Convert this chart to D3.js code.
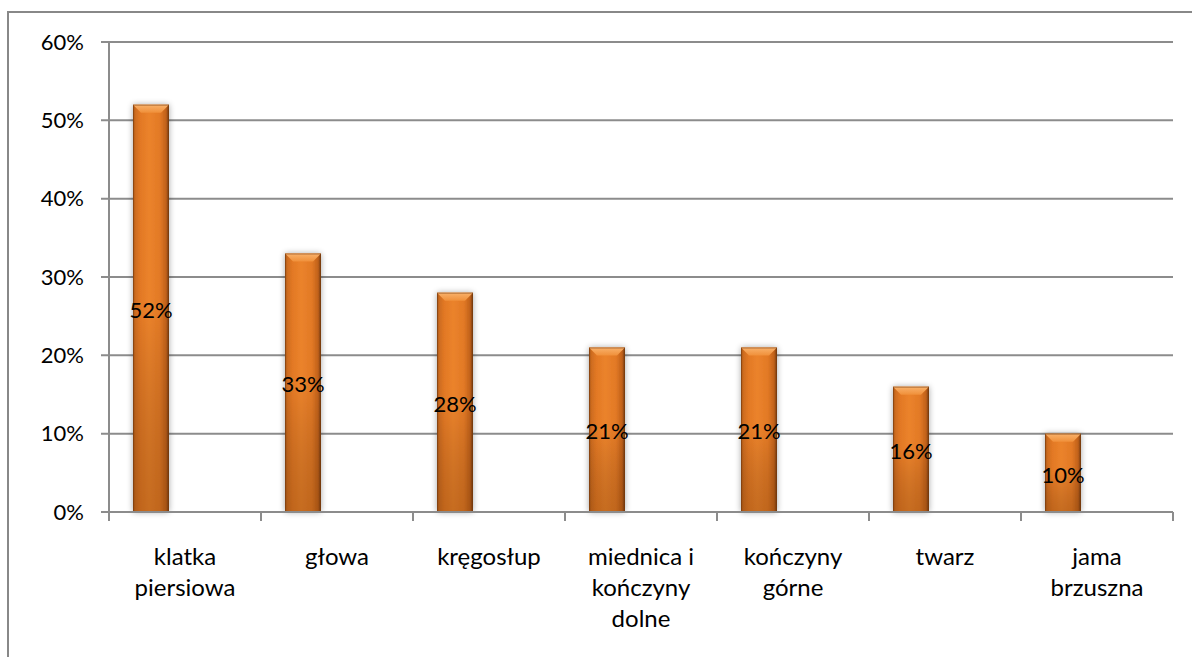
<!DOCTYPE html>
<html>
<head>
<meta charset="utf-8">
<script src="https://cdn.jsdelivr.net/npm/d3@7"></script>
<style>
  html, body { margin: 0; padding: 0; background: #fff; }
  svg { display: block; }
  text { font-family: Lato, "Open Sans", sans-serif; fill: #000; }
</style>
</head>
<body>
<svg id="chart" width="1192" height="657"></svg>
<script>
// Injury locations and their share of cases
const categories = [
  ["klatka", "piersiowa"],
  ["głowa"],
  ["kręgosłup"],
  ["miednica i", "kończyny", "dolne"],
  ["kończyny", "górne"],
  ["twarz"],
  ["jama", "brzuszna"]
];
const values = [0.52, 0.33, 0.28, 0.21, 0.21, 0.16, 0.10];
const yTicks = [0, 0.1, 0.2, 0.3, 0.4, 0.5, 0.6];

const svg = d3.select("#chart");
const W = 1192, H = 657;
const plot = { left: 109, right: 1173, top: 42, bottom: 512 };

// outer frame (runs off the right and bottom edges)
svg.append("rect")
  .attr("x", 8).attr("y", 12)
  .attr("width", W + 20).attr("height", H + 20)
  .attr("fill", "#fff").attr("stroke", "#888").attr("stroke-width", 2);

const x = d3.scaleBand()
  .domain(d3.range(categories.length))
  .range([plot.left, plot.right])
  .paddingInner(0).paddingOuter(0);

const y = d3.scaleLinear().domain([0, 0.6]).range([plot.bottom, plot.top]);

// defs: bar gradients + soft shadow
const defs = svg.append("defs");
const hg = defs.append("linearGradient").attr("id", "barH")
  .attr("x1", "0").attr("x2", "1").attr("y1", "0").attr("y2", "0");
[
  ["0%", "#9c4f14"], ["6%", "#cc6b1f"], ["20%", "#e27824"],
  ["45%", "#eb832c"], ["75%", "#e27925"], ["92%", "#c0611b"], ["100%", "#6e370d"]
].forEach(([o, c]) => hg.append("stop").attr("offset", o).attr("stop-color", c));

const vg = defs.append("linearGradient").attr("id", "barV")
  .attr("x1", "0").attr("x2", "0").attr("y1", "0").attr("y2", "1");
[
  ["0%", "#000", 0], ["50%", "#000", 0], ["100%", "#5a2a00", 0.25]
].forEach(([o, c, a]) => vg.append("stop").attr("offset", o)
  .attr("stop-color", c).attr("stop-opacity", a));

const bev = defs.append("linearGradient").attr("id", "bevel")
  .attr("x1", "0").attr("x2", "0").attr("y1", "0").attr("y2", "1");
bev.append("stop").attr("offset", "0%").attr("stop-color", "#f9b26c");
bev.append("stop").attr("offset", "100%").attr("stop-color", "#f0903a");

const sh = defs.append("filter").attr("id", "shadow")
  .attr("x", "-40%").attr("y", "-10%").attr("width", "180%").attr("height", "120%");
sh.append("feGaussianBlur").attr("in", "SourceAlpha").attr("stdDeviation", 3).attr("result", "b");
sh.append("feComponentTransfer").attr("in", "b").attr("result", "s")
  .append("feFuncA").attr("type", "linear").attr("slope", 0.35);
const mg = sh.append("feMerge");
mg.append("feMergeNode").attr("in", "s");
mg.append("feMergeNode").attr("in", "SourceGraphic");

// gridlines with outward tick stubs on the value axis
const grid = svg.append("g");
grid.selectAll("line").data(yTicks).join("line")
  .attr("x1", plot.left - 8).attr("x2", plot.right)
  .attr("y1", d => y(d)).attr("y2", d => y(d))
  .attr("stroke", "#8c8c8c").attr("stroke-width", 2);

// value axis line
svg.append("line")
  .attr("x1", plot.left).attr("x2", plot.left)
  .attr("y1", plot.top).attr("y2", plot.bottom)
  .attr("stroke", "#8c8c8c").attr("stroke-width", 2);

// value axis labels
const fmt = d3.format(".0%");
svg.append("g").selectAll("text").data(yTicks).join("text")
  .attr("x", 84).attr("y", d => y(d))
  .attr("dy", "0.35em")
  .attr("text-anchor", "end")
  .attr("font-size", 22)
  .text(d => fmt(d));

// category axis ticks
const tickXs = d3.range(categories.length + 1).map(i => plot.left + i * x.bandwidth());
svg.append("g").selectAll("line").data(tickXs).join("line")
  .attr("x1", d => d).attr("x2", d => d)
  .attr("y1", plot.bottom).attr("y2", plot.bottom + 9)
  .attr("stroke", "#8c8c8c").attr("stroke-width", 2);

// bars
const barW = 36, barOff = 24, bevH = 8;
const bars = svg.append("g").selectAll("g").data(values).join("g");
bars.append("rect")
  .attr("x", (d, i) => x(i) + barOff)
  .attr("y", d => y(d))
  .attr("width", barW)
  .attr("height", d => plot.bottom - y(d))
  .attr("fill", "url(#barH)")
  .attr("filter", "url(#shadow)");
bars.append("rect")
  .attr("x", (d, i) => x(i) + barOff)
  .attr("y", d => y(d))
  .attr("width", barW)
  .attr("height", d => plot.bottom - y(d))
  .attr("fill", "url(#barV)");
bars.append("path")
  .attr("d", (d, i) => {
    const x0 = x(i) + barOff, x1 = x0 + barW, y0 = y(d);
    return `M${x0},${y0}L${x1},${y0}L${x1 - bevH},${y0 + bevH}L${x0 + bevH},${y0 + bevH}Z`;
  })
  .attr("fill", "url(#bevel)");
bars.append("rect")
  .attr("x", (d, i) => x(i) + barOff + 0.5)
  .attr("y", d => y(d) + 0.5)
  .attr("width", barW - 1)
  .attr("height", d => plot.bottom - y(d) - 1)
  .attr("fill", "none")
  .attr("stroke", "#7a3c0e").attr("stroke-opacity", 0.55).attr("stroke-width", 1);

// redraw baseline over bar bottoms
svg.append("line")
  .attr("x1", plot.left - 8).attr("x2", plot.right)
  .attr("y1", plot.bottom).attr("y2", plot.bottom)
  .attr("stroke", "#8c8c8c").attr("stroke-width", 2);

// value labels centred on each bar
svg.append("g").selectAll("text").data(values).join("text")
  .attr("x", (d, i) => x(i) + barOff + barW / 2)
  .attr("y", d => (y(d) + plot.bottom) / 2 + 2)
  .attr("dy", "0.35em")
  .attr("text-anchor", "middle")
  .attr("font-size", 22)
  .text(d => fmt(d));

// category labels (multi-line)
const cat = svg.append("g").selectAll("text").data(categories).join("text")
  .attr("x", (d, i) => x(i) + x.bandwidth() / 2)
  .attr("y", 557)
  .attr("text-anchor", "middle")
  .attr("font-size", 24);
cat.selectAll("tspan").data(d => d).join("tspan")
  .attr("x", function () { return d3.select(this.parentNode).attr("x"); })
  .attr("y", (d, j) => 557 + j * 31)
  .attr("dy", "0.35em")
  .text(d => d);
</script>
</body>
</html>
